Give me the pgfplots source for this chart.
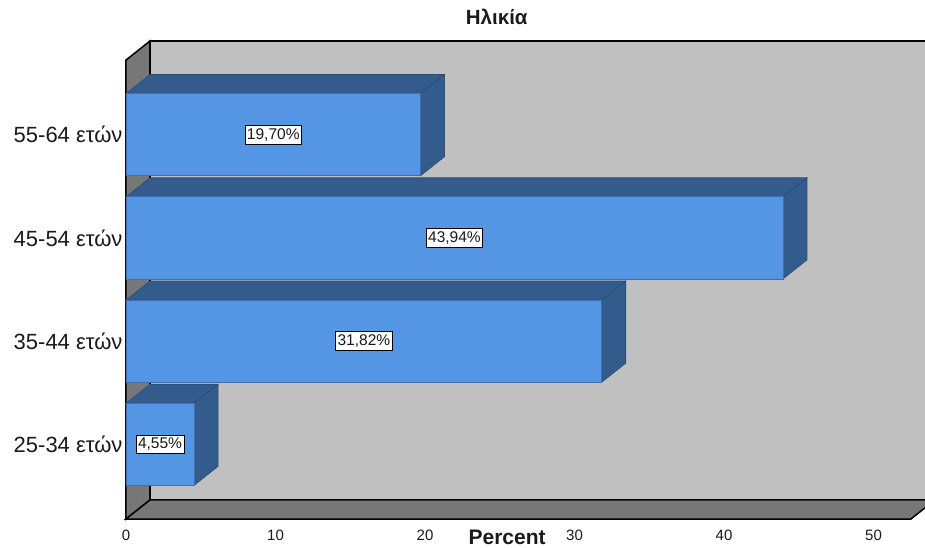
\documentclass[border=0pt]{standalone}
\usepackage{pgfplots}
\usepackage{pgfplotstable}
\pgfplotsset{compat=1.18}
\usepackage{fontspec}
\setmainfont{Liberation Sans}

\definecolor{wallback}{HTML}{C0C0C0}
\definecolor{wallside}{HTML}{777777}
\definecolor{barfront}{HTML}{5495E4}
\definecolor{barshade}{HTML}{335B8C}
\definecolor{baredge}{HTML}{3F6FAE}
\definecolor{txt}{HTML}{1A1A1A}

\newcommand\fs[1]{\fontsize{#1}{#1}\selectfont}

% share of respondents per age group (percent)
\pgfplotstableread{
cat val
0 4.55
1 31.82
2 43.94
3 19.70
}\agedata

% oblique depth of the boxes, in axis units
\def\dx{1.605}
\def\dy{0.1845}
% half thickness of a bar
\def\hb{0.398}

\begin{document}
\begin{tikzpicture}
\useasboundingbox (-126pt,-29pt) rectangle (799pt,519pt);
\clip (-126pt,-29pt) rectangle (799pt,519pt);
\begin{axis}[
  at={(0,0)}, anchor=south west,
  scale only axis, width=799pt, height=478pt,
  xmin=0, xmax=53.44, ymin=-0.723, ymax=3.9075,
  clip=false,
  axis line style={draw=none},
  tick style={draw=none},
  xtick={0,10,...,50},
  ytick={0,1,2,3},
  yticklabels={25-34 ετών,35-44 ετών,45-54 ετών,55-64 ετών},
  /pgf/number format/assume math mode=true,
  xticklabel style={font=\fs{15}, text=txt, anchor=base, yshift=-21pt},
  yticklabel style={font=\fs{22}, text=txt},
  title={Ηλικία},
  title style={font=\bfseries\fs{20.5}, text=txt, at={(rel axis cs:0.464,1)}, anchor=base, yshift=10pt},
  xlabel={Percent},
  xlabel style={font=\bfseries\fs{21}, text=txt, at={(rel axis cs:0.477,0)}, anchor=base, yshift=-25pt},
]
% back wall, left wall and floor
\addplot[fill=wallback, draw=black, line width=1.5pt] coordinates
  {(1.605,-0.5385) (60,-0.5385) (60,3.9075) (1.605,3.9075)} --cycle;
\addplot[fill=wallside, draw=black, line width=1.5pt] coordinates
  {(0,-0.723) (0,3.723) (1.605,3.9075) (1.605,-0.5385)} --cycle;
\addplot[fill=wallside, draw=black, line width=1.5pt] coordinates
  {(0,-0.723) (52.5,-0.723) (54.105,-0.5385) (1.605,-0.5385)} --cycle;

% top and side faces of each box
\pgfplotsinvokeforeach{3,2,1,0}{
  \pgfplotstablegetelem{#1}{val}\of\agedata
  \pgfmathsetmacro\barval{\pgfplotsretval}
  \pgfmathsetmacro\barvald{\barval+\dx}
  \pgfmathsetmacro\ya{#1+\hb}
  \pgfmathsetmacro\yb{#1-\hb}
  \pgfmathsetmacro\yad{\ya+\dy}
  \pgfmathsetmacro\ybd{\yb+\dy}
  \addplot[fill=barshade, draw=barshade!85!black, line width=0.6pt] coordinates
    {(0,\ya) (\barval,\ya) (\barvald,\yad) (\dx,\yad)} --cycle;
  \addplot[fill=barshade, draw=barshade!85!black, line width=0.6pt] coordinates
    {(\barval,\yb) (\barval,\ya) (\barvald,\yad) (\barvald,\ybd)} --cycle;
}

% front faces
\addplot[xbar, bar width=0.796, fill=barfront, draw=baredge, line width=0.8pt]
  table[x=val, y=cat] {\agedata};

% value labels
\addplot[draw=none, nodes near coords={\pgfmathprintnumber[fixed, fixed zerofill, precision=2, use comma]{\pgfplotspointmeta}\%},
  point meta=explicit,
  every node near coord/.style={anchor=center, fill=white, draw=black, line width=0.8pt,
    inner xsep=2pt, inner ysep=3pt, font=\fs{15.5}, text=txt}]
  table[x expr=\thisrow{val}/2, y=cat, meta=val] {\agedata};
\end{axis}
\end{tikzpicture}
\end{document}
